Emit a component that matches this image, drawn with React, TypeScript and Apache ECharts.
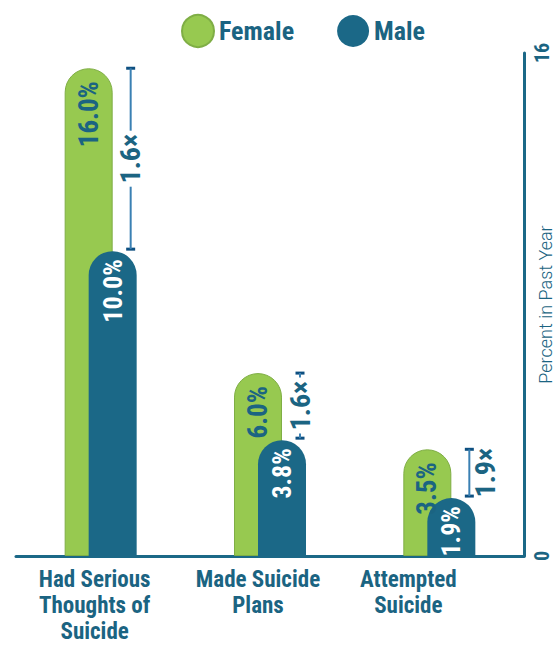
import React, { useEffect, useRef } from "react";
import * as echarts from "echarts";

const categories = ["Had Serious\nThoughts of\nSuicide", "Made Suicide\nPlans", "Attempted\nSuicide"];
const femaleValues = [16.0, 6.0, 3.5];
const maleValues = [10.0, 3.8, 1.9];
const ratioLabels = ["1.6×", "1.6×", "1.9×"];
const yTickMax = 16;

const TEAL = "#1b6482";
const GREEN = "#97c950";
const MALE = "#1b6887";
const NARROW = "'Liberation Sans Narrow', 'Roboto Condensed', 'Arial Narrow', Roboto, sans-serif";

export default function App() {
  const ref = useRef<HTMLDivElement>(null);
  useEffect(() => {
    if (!ref.current) return;
    const chart = echarts.init(ref.current, null, { renderer: "svg" });
    const labelShift = [12, 24, 62];
    const option: any = {
      animation: false,
      legend: {
        data: ["Female", "Male"],
        icon: "circle",
        itemWidth: 32,
        itemHeight: 32,
        itemGap: 43,
        left: 176,
        top: 9,
        textStyle: { fontSize: 26, fontWeight: "bold", color: TEAL, fontFamily: NARROW },
      },
      grid: { left: 16, right: 32, top: 53, bottom: 90, outerBoundsMode: "none" },
      xAxis: {
        type: "category",
        data: categories,
        axisTick: { show: false },
        axisLine: { lineStyle: { color: MALE, width: 3 } },
        axisLabel: {
          margin: 10,
          interval: 0,
          formatter: (v: string, i: number) => `{c${i}|${v}}`,
          rich: Object.fromEntries(
            labelShift.map((s, i) => [
              `c${i}`,
              {
                fontSize: 23,
                lineHeight: 26,
                fontWeight: "bold",
                color: TEAL,
                fontFamily: NARROW,
                padding: [0, s, 0, 0],
              },
            ])
          ),
        },
      },
      yAxis: [
        { type: "value", min: 0, max: 16.5, show: false },
        {
          type: "value",
          min: 0,
          max: yTickMax,
          interval: yTickMax,
          position: "right",
          splitLine: { show: false },
          axisTick: { show: false },
          axisLine: { show: true, lineStyle: { color: MALE, width: 3 } },
          axisLabel: {
            rotate: 90,
            margin: 8,
            fontSize: 20,
            fontWeight: "bold",
            color: TEAL,
            fontFamily: NARROW,
          },
          name: "Percent in Past Year",
          nameLocation: "middle",
          nameRotate: 90,
          nameGap: 21,
          nameMoveOverlap: false,
          nameTextStyle: {
            fontSize: 18,
            fontWeight: 300,
            color: TEAL,
            fontFamily: "Roboto, sans-serif",
            align: "center",
            verticalAlign: "middle",
          },
        },
      ],
      series: [
        {
          name: "Female",
          type: "bar",
          yAxisIndex: 0,
          data: femaleValues,
          barWidth: 48,
          barGap: "-50%",
          itemStyle: { color: GREEN, borderColor: "#7fae45", borderWidth: 1, borderRadius: [24, 24, 0, 0] },
          label: {
            show: true,
            position: [24, 13],
            rotate: 90,
            align: "right",
            verticalAlign: "middle",
            formatter: (p: any) => p.value.toFixed(1) + "%",
            fontSize: 27,
            fontWeight: "bold",
            color: TEAL,
            fontFamily: NARROW,
          },
        },
        {
          name: "Male",
          type: "bar",
          yAxisIndex: 0,
          data: maleValues,
          barWidth: 48,
          barGap: "-50%",
          itemStyle: { color: MALE, borderRadius: [24, 24, 0, 0] },
          label: {
            show: true,
            position: [24, 8],
            rotate: 90,
            align: "right",
            verticalAlign: "middle",
            formatter: (p: any) => p.value.toFixed(1) + "%",
            fontSize: 26,
            fontWeight: "bold",
            color: "#ffffff",
            fontFamily: NARROW,
          },
        },
        {
          type: "custom",
          yAxisIndex: 0,
          silent: true,
          data: categories.map((_, i) => [i, femaleValues[i], maleValues[i], ratioLabels[i]]),
          renderItem: (params: any, api: any) => {
            const idx = api.value(0);
            const top = api.coord([idx, api.value(1)]);
            const bot = api.coord([idx, api.value(2)]);
            const x = top[0] + 30;
            const y1 = top[1];
            const y2 = bot[1] - 2;
            const label = ratioLabels[params.dataIndex];
            const capStyle = { stroke: "#0d4f80", lineWidth: 3 };
            const lineStyle = { stroke: "#3a80b3", lineWidth: 2 };
            const children: any[] = [
              { type: "line", shape: { x1: x - 4.5, y1, x2: x + 4.5, y2: y1 }, style: capStyle },
              { type: "line", shape: { x1: x - 4.5, y1: y2, x2: x + 4.5, y2 }, style: capStyle },
            ];
            const textStyle = {
              text: label,
              fontSize: 28,
              fontWeight: "bold",
              fill: TEAL,
              fontFamily: NARROW,
              align: "center",
              verticalAlign: "middle",
            };
            const mid = (y1 + y2) / 2;
            if (y2 - y1 < 60) {
              children.push({ type: "line", shape: { x1: x, y1, x2: x, y2 }, style: lineStyle });
              children.push({ type: "text", x: x + 16, y: mid, rotation: Math.PI / 2, style: textStyle });
            } else {
              const half = 28;
              children.push({ type: "line", shape: { x1: x, y1, x2: x, y2: mid - half }, style: lineStyle });
              children.push({ type: "line", shape: { x1: x, y1: mid + half, x2: x, y2 }, style: lineStyle });
              children.push({ type: "text", x, y: mid, rotation: Math.PI / 2, style: textStyle });
            }
            return { type: "group", children };
          },
        },
      ],
    };
    chart.setOption(option);
    return () => chart.dispose();
  }, []);
  return (
    <div
      ref={ref}
      style={{ position: "absolute", left: 0, top: 0, width: 556, height: 646, background: "#fff" }}
    />
  );
}
